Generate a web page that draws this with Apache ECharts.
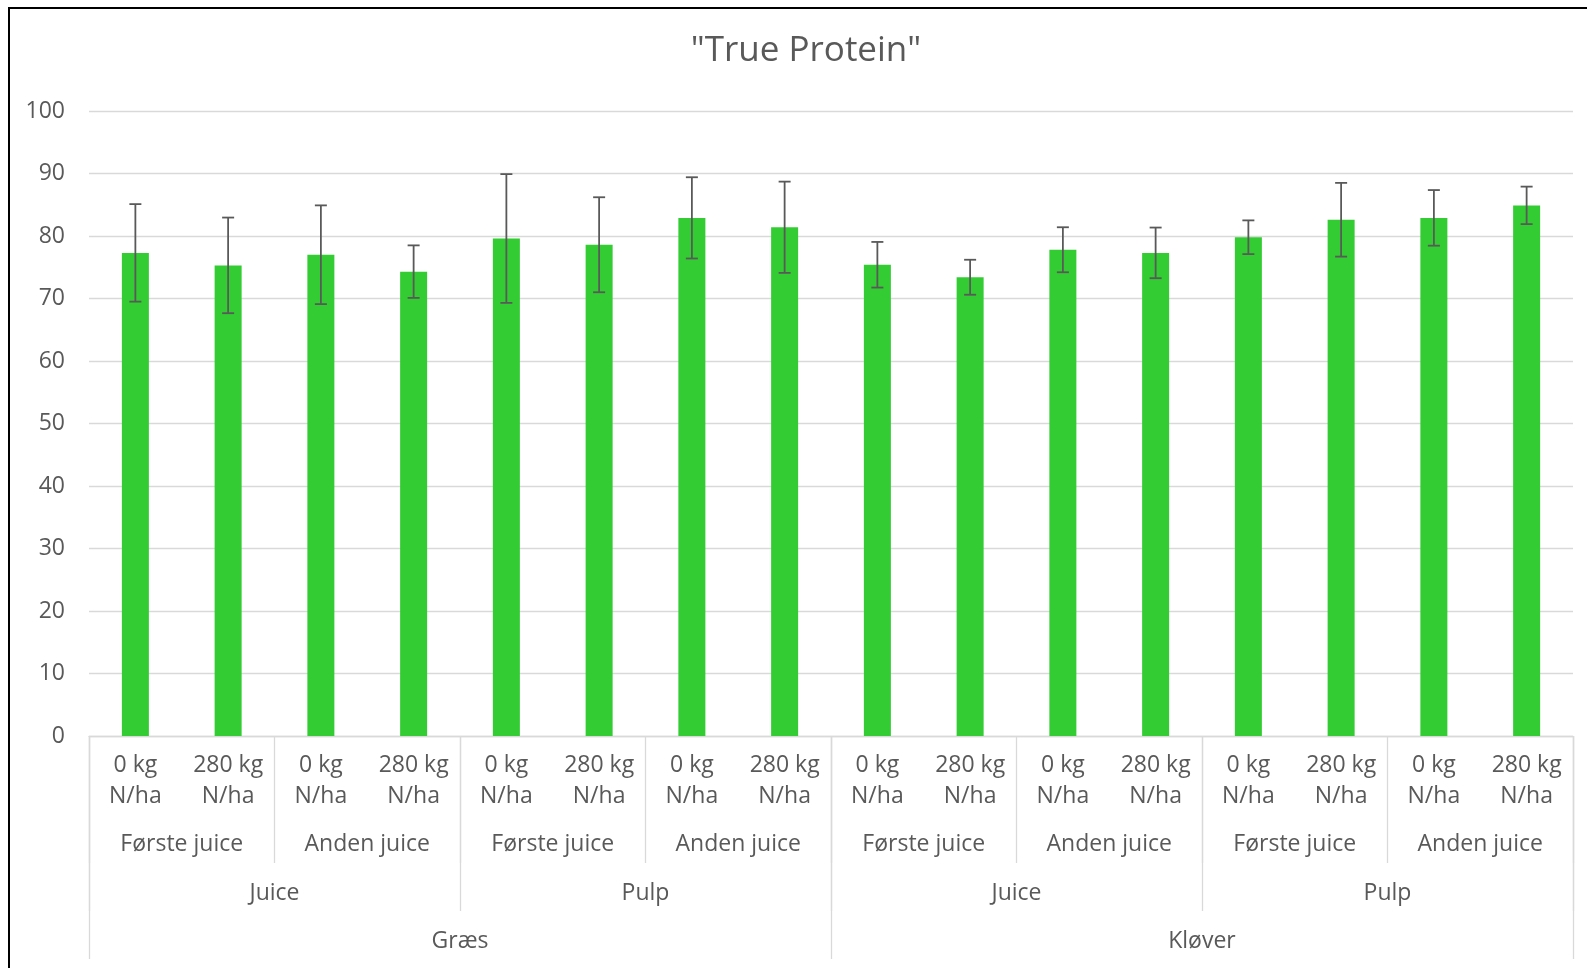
<!DOCTYPE html>
<html>
<head>
<meta charset="utf-8">
<script src="https://cdn.jsdelivr.net/npm/echarts@6/dist/echarts.min.js"></script>
<style>
  html, body { margin: 0; padding: 0; background: #fff; overflow: hidden; }
  #chart { width: 1587px; height: 968px; position: absolute; left: 0; top: 0; }
  #frame { position: absolute; left: 8px; top: 7px; width: 1700px; height: 1100px; border: 2px solid #000; pointer-events: none; }
</style>
</head>
<body>
<div id="chart"></div>
<div id="frame"></div>
<script>
// ---- data ----
const leafLabels = [
  "0 kg\nN/ha", "280 kg\nN/ha", "0 kg\nN/ha", "280 kg\nN/ha",
  "0 kg\nN/ha", "280 kg\nN/ha", "0 kg\nN/ha", "280 kg\nN/ha",
  "0 kg\nN/ha", "280 kg\nN/ha", "0 kg\nN/ha", "280 kg\nN/ha",
  "0 kg\nN/ha", "280 kg\nN/ha", "0 kg\nN/ha", "280 kg\nN/ha"
];
const juiceLabels = ["Første juice", "Anden juice", "Første juice", "Anden juice",
                     "Første juice", "Anden juice", "Første juice", "Anden juice"];
const fractionLabels = ["Juice", "Pulp", "Juice", "Pulp"];
const cropLabels = ["Græs", "Kløver"];
const values = [77.3, 75.3, 77.0, 74.3, 79.6, 78.6, 82.9, 81.4,
                75.4, 73.4, 77.8, 77.3, 79.8, 82.6, 82.9, 84.9];
const errors = [7.8, 7.65, 7.9, 4.2, 10.3, 7.6, 6.5, 7.3,
                3.65, 2.8, 3.6, 4.05, 2.7, 5.9, 4.45, 3.0];
const yTicks = { min: 0, max: 100, interval: 10 };

// ---- build ----
const txt = '#595959';
const gridCol = '#d9d9d9';
const font = 'Open Sans';
const errData = values.map((v, i) => [i, v - errors[i], v + errors[i]]);

const levelAxis = (data, tickLen, margin) => ({
  type: 'category', gridIndex: 0, position: 'bottom', data: data,
  axisLine: { show: false },
  axisTick: { show: true, length: tickLen, interval: 0, lineStyle: { color: gridCol, width: 1.3 } },
  axisLabel: { interval: 0, margin: margin, color: txt, fontSize: 23, fontFamily: font, lineHeight: 31 },
  splitLine: { show: false }
});

const chart = echarts.init(document.getElementById('chart'));
chart.setOption({
  animation: false,
  backgroundColor: '#fff',
  title: {
    text: '"True Protein"', left: 801, top: 29, textAlign: 'center',
    textStyle: { color: txt, fontSize: 35, fontWeight: 'normal', fontFamily: font }
  },
  grid: { left: 89, right: 14, top: 111, bottom: 232, containLabel: false },
  xAxis: [
    {
      type: 'category', data: leafLabels,
      axisLine: { show: true, lineStyle: { color: gridCol, width: 1.3 } },
      axisTick: { show: false },
      axisLabel: { interval: 0, margin: 14, color: txt, fontSize: 23, fontFamily: font, lineHeight: 31 }
    },
    levelAxis(juiceLabels, 127, 93),
    levelAxis(fractionLabels, 175, 142),
    levelAxis(cropLabels, 223, 190)
  ],
  yAxis: {
    type: 'value', min: yTicks.min, max: yTicks.max, interval: yTicks.interval,
    axisLine: { show: false }, axisTick: { show: false },
    axisLabel: { margin: 24, color: txt, fontSize: 23, fontFamily: font },
    splitLine: { lineStyle: { color: gridCol, width: 1.3 } }
  },
  series: [
    {
      type: 'bar', xAxisIndex: 0, data: values, barWidth: 27,
      itemStyle: { color: '#33cc33' }
    },
    {
      type: 'custom', xAxisIndex: 0, data: errData, z: 5,
      renderItem: function (params, api) {
        const x = api.value(0);
        const lo = api.coord([x, api.value(1)]);
        const hi = api.coord([x, api.value(2)]);
        const cap = 6;
        const st = { stroke: '#595959', lineWidth: 1.8 };
        return {
          type: 'group',
          children: [
            { type: 'line', shape: { x1: hi[0], y1: hi[1], x2: lo[0], y2: lo[1] }, style: st },
            { type: 'line', shape: { x1: hi[0] - cap, y1: hi[1], x2: hi[0] + cap, y2: hi[1] }, style: st },
            { type: 'line', shape: { x1: lo[0] - cap, y1: lo[1], x2: lo[0] + cap, y2: lo[1] }, style: st }
          ]
        };
      }
    }
  ]
});
</script>
</body>
</html>
